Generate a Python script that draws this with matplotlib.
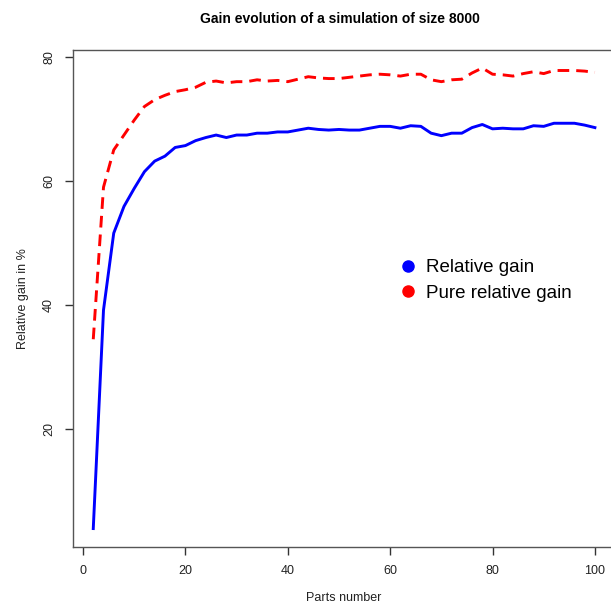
import matplotlib
matplotlib.use("Agg")
import matplotlib.pyplot as plt
from matplotlib.lines import Line2D

plt.rcParams['font.family'] = ['Liberation Sans', 'DejaVu Sans']

# data
parts = list(range(2, 101, 2))
relative_gain = [
    4.0, 39.2, 51.6, 55.9, 58.8, 61.5, 63.2, 64.0, 65.4, 65.7,
    66.5, 67.0, 67.4, 67.0, 67.4, 67.4, 67.7, 67.7, 67.9, 67.9,
    68.2, 68.5, 68.3, 68.2, 68.3, 68.2, 68.2, 68.5, 68.8, 68.8,
    68.5, 68.9, 68.8, 67.7, 67.3, 67.7, 67.7, 68.6, 69.1, 68.4,
    68.5, 68.4, 68.4, 68.9, 68.8, 69.3, 69.3, 69.3, 69.0, 68.6,
]
pure_relative_gain = [
    34.5, 59.0, 65.0, 67.4, 69.8, 72.0, 73.1, 73.8, 74.4, 74.7,
    75.1, 75.9, 76.1, 75.8, 76.0, 76.0, 76.3, 76.1, 76.2, 76.0,
    76.4, 76.8, 76.6, 76.5, 76.5, 76.7, 76.9, 77.1, 77.2, 77.1,
    76.9, 77.2, 77.2, 76.3, 76.0, 76.3, 76.4, 77.4, 78.2, 77.2,
    77.1, 76.9, 77.3, 77.6, 77.3, 77.8, 77.8, 77.8, 77.7, 77.5,
]
x_ticks = [0, 20, 40, 60, 80, 100]
y_ticks = [20, 40, 60, 80]
legend_labels = ["Relative gain", "Pure relative gain"]

fig = plt.figure(figsize=(6.11, 6.04), dpi=100)
ax = fig.add_axes([0.1198, 0.0944, 0.8867, 0.8235])

ax.plot(parts, relative_gain, color='#0000ff', linewidth=2.1, solid_joinstyle='round')
ax.plot(parts, pure_relative_gain, color='#ff0000', linewidth=2.1,
        linestyle=(0, (4, 2.4)), dash_capstyle='butt')

# R style 4% padding
xr = max(parts) - min(parts)
ax.set_xlim(min(parts) - 0.04 * xr, max(parts) + 0.04 * xr)
lo = min(relative_gain + pure_relative_gain)
hi = max(relative_gain + pure_relative_gain)
yr = hi - lo
ax.set_ylim(lo - 0.04 * yr, hi + 0.04 * yr)

ax.set_xticks(x_ticks)
ax.set_yticks(y_ticks)
ax.set_yticklabels([str(v) for v in y_ticks], rotation=90, va='center')
ax.tick_params(direction='out', length=6, width=1, color='#333333',
               labelsize=9, labelcolor='#222222', pad=7)
for spine in ax.spines.values():
    spine.set_edgecolor('#555555')
    spine.set_linewidth(1)

ax.set_xlabel("Parts number", fontsize=9, color='#222222', labelpad=11)
ax.set_ylabel("Relative gain in %", fontsize=9, color='#222222', labelpad=10)
fig.text(0.557, 0.968, "Gain evolution of a simulation of size 8000",
         ha='center', va='center', fontsize=10, fontweight='bold')

handles = [
    Line2D([0], [0], marker='o', color='w', markerfacecolor='#0000ff',
           markeredgecolor='#0000ff', markersize=8, linestyle='None'),
    Line2D([0], [0], marker='o', color='w', markerfacecolor='#ff0000',
           markeredgecolor='#ff0000', markersize=8, linestyle='None'),
]
ax.legend(handles, legend_labels, loc='upper left', bbox_to_anchor=(0.59, 0.594),
          frameon=False, fontsize=13.5, handlelength=0.8, handletextpad=0.55,
          labelspacing=0.45, borderaxespad=0)

fig.savefig("out.png", dpi=100)
